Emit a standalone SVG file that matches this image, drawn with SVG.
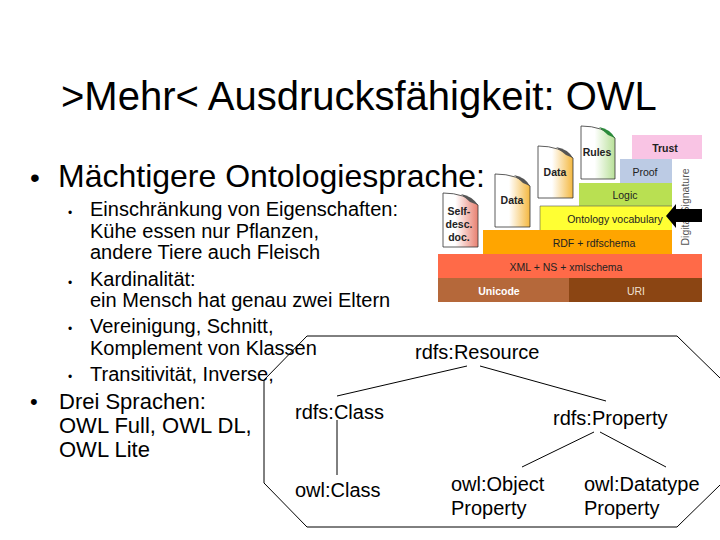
<svg xmlns="http://www.w3.org/2000/svg" width="720" height="540" viewBox="0 0 720 540">
<style>
text{font-family:"Liberation Sans",Arial,sans-serif;fill:#000}
.t{font-size:40px}.h{font-size:32px}.b{font-size:20px}.m{font-size:22px}.g{font-size:20px}
.dot{font-size:12px}
.s{font-size:10.5px;fill:#222;text-anchor:middle}
.sb{font-size:10.5px;font-weight:bold;fill:#222;text-anchor:middle}
.c{fill:none;stroke:#000;stroke-width:1}
.doc{stroke:#333;stroke-width:.8}
</style>
<defs>
<linearGradient id="gr" x1="0" x2="1" y1="0" y2="0"><stop offset=".35" stop-color="#fff"/><stop offset="1" stop-color="#e88070"/></linearGradient>
<linearGradient id="gy" x1="0" x2="1" y1="0" y2="0"><stop offset=".4" stop-color="#fff"/><stop offset="1" stop-color="#f4b840"/></linearGradient>
<linearGradient id="gg" x1="0" x2="1" y1="0" y2="0"><stop offset=".4" stop-color="#fff"/><stop offset="1" stop-color="#b8e098"/></linearGradient>
</defs>
<rect width="720" height="540" fill="#fff"/>
<g id="title"><text class="t" x="61" y="110">&gt;Mehr&lt; Ausdrucksfähigkeit: OWL</text></g>

<g id="stack">
<rect x="632" y="135" width="70" height="24" fill="#f9c4e4"/>
<text class="sb" x="665" y="152">Trust</text>
<rect x="620" y="159" width="52" height="24" fill="#bccbe4"/>
<text class="s" x="645" y="176">Proof</text>
<rect x="672" y="159" width="30" height="95" fill="#fff"/>
<text class="s" transform="translate(689,207) rotate(-90)" style="fill:#555">Digital Signature</text>
<rect x="579" y="183" width="93" height="23" fill="#b9e052"/>
<text class="s" x="625" y="199">Logic</text>
<rect x="540" y="206" width="132" height="24" fill="#ffff33"/>
<path d="M540 230V206H672" fill="none" stroke="#555" stroke-width=".6"/>
<text class="s" x="615" y="223">Ontology vocabulary</text>
<rect x="483" y="230" width="189" height="24" fill="#ffa500"/>
<text class="s" x="594" y="247">RDF + rdfschema</text>
<rect x="438" y="254" width="264" height="24" fill="#ff6a48"/>
<text class="s" x="566" y="271">XML + NS + xmlschema</text>
<rect x="438" y="278" width="131" height="24" fill="#b5683a"/>
<text class="sb" x="499" y="295" style="fill:#fff">Unicode</text>
<rect x="569" y="278" width="133" height="24" fill="#8b4513"/>
<text class="s" x="636" y="295" style="fill:#f0e0d0">URI</text>
<path d="M702 209H676V204L666 216L676 228V222H702Z" fill="#000"/>
<path class="doc" d="M443 193Q465 193 478 205V247H443Z" fill="url(#gr)"/>
<path d="M461 194Q472 196 478 205L470 202Z" fill="#555"/>
<text class="sb" x="459" y="215">Self-</text><text class="sb" x="459" y="228">desc.</text><text class="sb" x="459" y="241">doc.</text>
<path class="doc" d="M495 174Q518 174 530 186V227H495Z" fill="url(#gy)"/>
<path d="M514 175Q525 177 530 186L523 183Z" fill="#555"/>
<text class="sb" x="512" y="204">Data</text>
<path class="doc" d="M538 146Q560 146 573 158V198H538Z" fill="url(#gy)"/>
<path d="M556 147Q568 149 573 158L566 155Z" fill="#555"/>
<text class="sb" x="555" y="176">Data</text>
<path class="doc" d="M581 126Q603 126 615 138V179H581Z" fill="url(#gg)"/>
<path d="M599 127Q610 129 615 138L608 135Z" fill="#2a8a3a"/>
<text class="sb" x="597" y="156">Rules</text>
</g>

<g id="bullets">
<text class="h" x="30" y="187" style="font-size:28px">•</text>
<text class="h" x="58" y="187">Mächtigere Ontologiesprache:</text>
<text class="dot" x="68" y="217">•</text>
<text class="g" x="90" y="216">Einschränkung von Eigenschaften:</text>
<text class="g" x="90" y="238">Kühe essen nur Pflanzen,</text>
<text class="g" x="90" y="259">andere Tiere auch Fleisch</text>
<text class="dot" x="68" y="287">•</text>
<text class="g" x="90" y="286">Kardinalität:</text>
<text class="g" x="90" y="307">ein Mensch hat genau zwei Eltern</text>
<text class="dot" x="68" y="333">•</text>
<text class="g" x="90" y="333">Vereinigung, Schnitt,</text>
<text class="g" x="90" y="355">Komplement von Klassen</text>
<text class="dot" x="68" y="381">•</text>
<text class="g" x="90" y="381">Transitivität, Inverse,</text>
<text class="m" x="30" y="409">•</text>
<text class="m" x="59" y="409">Drei Sprachen:</text>
<text class="m" x="59" y="433">OWL Full, OWL DL,</text>
<text class="m" x="59" y="457">OWL Lite</text>
</g>

<g id="connectors">
<path class="c" d="M720 378L677 336H307L264 380V483L307 527H677L720 485"/>
<path class="c" d="M467 366L337 396M480 366L606 401M337 420V475M594 432L522 467M600 432L666 467"/>
</g>

<g id="n-resource"><text class="b" x="415" y="359">rdfs:Resource</text></g>
<g id="n-class"><text class="b" x="295" y="419">rdfs:Class</text></g>
<g id="n-property"><text class="b" x="553" y="425">rdfs:Property</text></g>
<g id="n-owlclass"><text class="b" x="295" y="497">owl:Class</text></g>
<g id="n-object"><text class="b" x="451" y="491">owl:Object</text><text class="b" x="451" y="515">Property</text></g>
<g id="n-datatype"><text class="b" x="584" y="491">owl:Datatype</text><text class="b" x="584" y="515">Property</text></g>
</svg>
